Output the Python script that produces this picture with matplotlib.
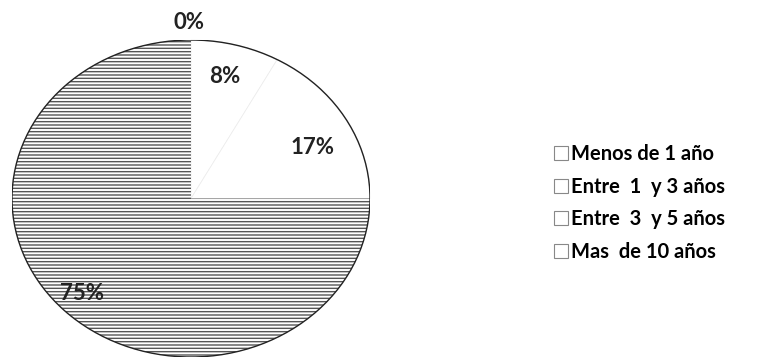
import matplotlib.pyplot as plt
import matplotlib.patches as mpatches

# Datos del gráfico
categorias = ['Menos de 1 año', 'Entre  1  y 3 años', 'Entre  3  y 5 años', 'Mas  de 10 años']
valores = [0, 8, 17, 75]
etiquetas = ['0%', '8%', '17%', '75%']

plt.rcParams['font.family'] = ['Lato', 'DejaVu Sans']

fig = plt.figure(figsize=(7.69, 3.59), dpi=100)
ax = fig.add_axes([12 / 769, 2 / 359, 358 / 769, 317 / 359])

tramas = [None, None, None, '-----']
wedges, _ = ax.pie(valores, startangle=90, counterclock=False,
                   colors=['white'] * 4, radius=1.0, center=(0, 0), frame=True)
for w, h in zip(wedges, tramas):
    w.set_edgecolor('#ececec')
    w.set_linewidth(0.5)
    if h:
        w.set_hatch(h)
        w.set_edgecolor('#555555')
        w.set_linewidth(0)

# borde de la elipse
ax.add_patch(mpatches.Circle((0, 0), 1.0, fill=False, edgecolor='#222222', linewidth=1.0))

ax.set_aspect('auto')
ax.set_xlim(-1, 1)
ax.set_ylim(-1, 1)
ax.axis('off')

# etiquetas de porcentaje
pos = [(-0.01, 1.11), (0.19, 0.77), (0.68, 0.32), (-0.61, -0.6)]
for (x, y), t in zip(pos, etiquetas):
    ax.text(x, y, t, ha='center', va='center', fontsize=16, fontweight='bold', color='#222222')

# leyenda
handles = [mpatches.Patch(facecolor='white', edgecolor='#888888', linewidth=0.8) for _ in categorias]
fig.legend(handles, categorias, loc='center left', bbox_to_anchor=(536 / 769, 1 - 203 / 359),
           frameon=False, prop={'weight': 'bold', 'size': 14.5},
           handlelength=0.7, handleheight=0.7, handletextpad=0.15, labelspacing=0.62)

plt.savefig('out.png', dpi=100)
